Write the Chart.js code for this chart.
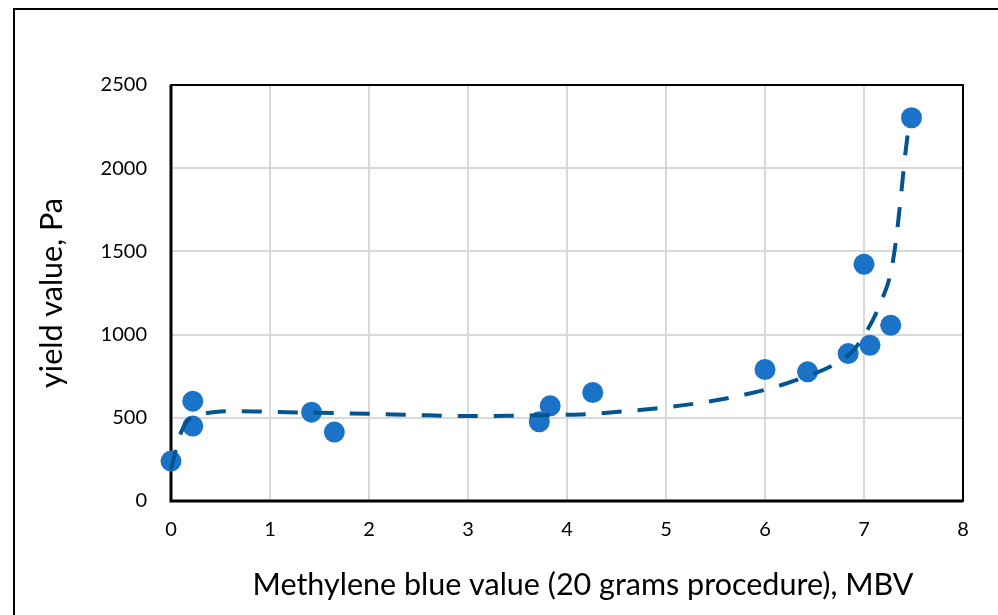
<!DOCTYPE html>
<html>
<head>
<meta charset="utf-8">
<script src="https://cdn.jsdelivr.net/npm/chart.js@4.4.1/dist/chart.umd.min.js"></script>
<style>
  html, body { margin: 0; padding: 0; background: #ffffff; }
  #wrap { width: 998px; height: 615px; }
</style>
</head>
<body>
<div id="wrap"><canvas id="c" width="998" height="615"></canvas></div>
<script>
// Measured samples: methylene blue value vs. yield value
const mbv     = [0.00, 0.22, 0.22, 1.42, 1.65, 3.72, 3.83, 4.26, 6.00, 6.43, 6.84, 7.00, 7.06, 7.27, 7.48];
const yieldPa = [240,  600,  450,  534,  414,  476,  572,  652,  790,  776,  886,  1423, 936,  1056, 2303];

// Trend line through the samples
const trendMbv   = [0, 0.03, 0.06, 0.1, 0.15, 0.2, 0.3, 0.45, 0.7, 1.0, 1.5, 2.0, 2.5, 3.0, 3.4, 3.8, 4.2, 4.6, 5.0, 5.4, 5.8, 6.1, 6.4, 6.7, 6.9, 7.0, 7.1, 7.18, 7.26, 7.30, 7.33, 7.36, 7.39, 7.42, 7.46];
const trendYield = [190, 260, 340, 410, 470, 500, 520, 535, 540, 536, 530, 524, 516, 511, 512, 516, 522, 540, 563, 595, 640, 685, 745, 820, 910, 995, 1100, 1210, 1345, 1470, 1600, 1760, 1930, 2100, 2290];

// Axis ticks
const xTicks = [0, 1, 2, 3, 4, 5, 6, 7, 8];
const yTicks = [0, 500, 1000, 1500, 2000, 2500];

const xTitle = 'Methylene blue value (20 grams procedure), MBV';
const yTitle = 'yield value, Pa';

const FONT = 'Lato, "Open Sans", sans-serif';

const toPoints = (xs, ys) => xs.map((x, i) => ({ x: x, y: ys[i] }));

// Outer frame, plot box and the horizontal axis title
const framePlugin = {
  id: 'frame',
  beforeDraw(chart) {
    const ctx = chart.ctx;
    ctx.save();
    ctx.fillStyle = '#ffffff';
    ctx.fillRect(0, 0, chart.width, chart.height);
    ctx.strokeStyle = '#000000';
    ctx.lineWidth = 2;
    ctx.beginPath();
    ctx.moveTo(14, chart.height);
    ctx.lineTo(14, 9);
    ctx.lineTo(chart.width, 9);
    ctx.stroke();
    ctx.restore();
  },
  beforeDatasetsDraw(chart) {
    const a = chart.chartArea;
    const ctx = chart.ctx;
    ctx.save();
    ctx.strokeStyle = '#000000';
    ctx.lineWidth = 2;
    ctx.strokeRect(a.left, a.top, a.right - a.left, a.bottom - a.top);
    ctx.lineWidth = 3;
    ctx.beginPath();
    ctx.moveTo(a.left, a.top);
    ctx.lineTo(a.left, a.bottom);
    ctx.lineTo(a.right, a.bottom);
    ctx.stroke();
    ctx.restore();
  },
  afterDraw(chart) {
    const a = chart.chartArea;
    const ctx = chart.ctx;
    ctx.save();
    ctx.fillStyle = '#000000';
    ctx.font = '30.5px ' + FONT;
    ctx.textAlign = 'center';
    ctx.textBaseline = 'middle';
    ctx.fillText(xTitle, (a.left + a.right) / 2 + 16, 585);
    ctx.restore();
  }
};

new Chart(document.getElementById('c'), {
  type: 'scatter',
  data: {
    datasets: [
      {
        label: 'Trend',
        data: toPoints(trendMbv, trendYield),
        showLine: true,
        borderColor: '#03558f',
        borderWidth: 4,
        borderDash: [20, 16],
        borderCapStyle: 'butt',
        cubicInterpolationMode: 'monotone',
        pointRadius: 0,
        pointHoverRadius: 0,
        clip: false,
        order: 0
      },
      {
        label: 'Yield value',
        data: toPoints(mbv, yieldPa),
        backgroundColor: '#1a73c6',
        borderColor: '#1a73c6',
        borderWidth: 0,
        pointRadius: 10.5,
        pointHoverRadius: 10.5,
        clip: false,
        order: 1
      }
    ]
  },
  options: {
    responsive: false,
    animation: false,
    devicePixelRatio: 1,
    layout: { padding: { top: 85, right: 35, left: 0, bottom: 0 } },
    plugins: {
      legend: { display: false },
      tooltip: { enabled: false }
    },
    scales: {
      x: {
        type: 'linear',
        min: xTicks[0],
        max: xTicks[xTicks.length - 1],
        afterFit(scale) { scale.height = 114; },
        afterBuildTicks(scale) { scale.ticks = xTicks.map(v => ({ value: v })); },
        ticks: {
          padding: 17,
          color: '#000000',
          font: { family: FONT, size: 20, lineHeight: 1.2 },
          maxRotation: 0,
          callback: v => String(v)
        },
        grid: { color: '#d9d9d9', lineWidth: 2, drawTicks: false },
        border: { display: false },
        title: { display: false }
      },
      y: {
        type: 'linear',
        min: yTicks[0],
        max: yTicks[yTicks.length - 1],
        afterFit(scale) { scale.width = 171; },
        afterBuildTicks(scale) { scale.ticks = yTicks.map(v => ({ value: v })); },
        ticks: {
          padding: 24,
          color: '#000000',
          font: { family: FONT, size: 20, lineHeight: 1.2 },
          callback: v => String(v)
        },
        grid: { color: '#d9d9d9', lineWidth: 2, drawTicks: false },
        border: { display: false },
        title: {
          display: true,
          text: yTitle,
          color: '#000000',
          font: { family: FONT, size: 30.5, lineHeight: 1.2 },
          padding: { top: 34, bottom: 0 }
        }
      }
    }
  },
  plugins: [framePlugin]
});
</script>
</body>
</html>
